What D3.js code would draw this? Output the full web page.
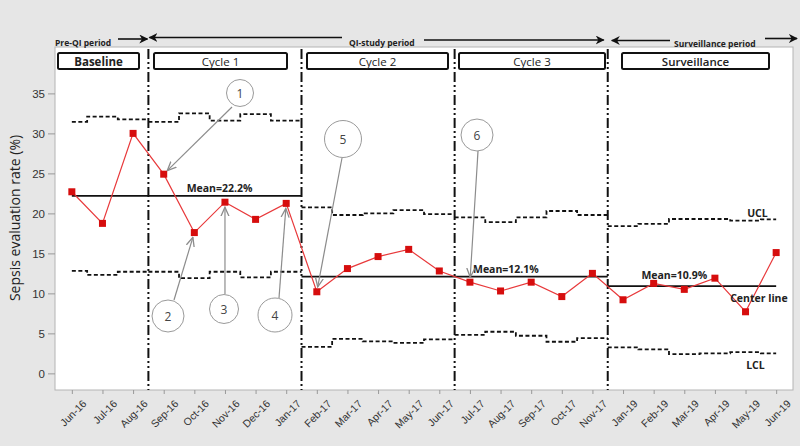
<!DOCTYPE html>
<html>
<head>
<meta charset="utf-8">
<script src="https://cdn.jsdelivr.net/npm/d3@7"></script>
<style>
  html, body { margin: 0; padding: 0; background: #e6e6e6; }
  svg { display: block; font-family: 'Open Sans', sans-serif; }
</style>
</head>
<body>
<div id="chart"></div>
<script>
// data
const months = ['Jun-16','Jul-16','Aug-16','Sep-16','Oct-16','Nov-16','Dec-16','Jan-17',
  'Feb-17','Mar-17','Apr-17','May-17','Jun-17','Jul-17','Aug-17','Sep-17','Oct-17','Nov-17',
  'Jan-19','Feb-19','Mar-19','Apr-19','May-19','Jun-19'];
const rates = [22.7, 18.75, 30.0, 24.9, 17.6, 21.4, 19.25, 21.25,
  10.2, 13.1, 14.6, 15.5, 12.8, 11.4, 10.3, 11.4, 9.6, 12.5,
  9.2, 11.25, 10.5, 11.9, 7.7, 15.1];
const ucl = [31.45, 32.1, 31.75, 31.45, 32.5, 31.6, 32.4, 31.6,
  20.75, 19.8, 20.0, 20.4, 19.9, 19.5, 18.9, 19.5, 20.3, 19.8,
  18.4, 18.7, 19.3, 19.3, 19.1, 19.25];
const lcl = [12.8, 12.3, 12.7, 12.7, 11.9, 12.7, 12.0, 12.7,
  3.3, 4.3, 4.0, 3.8, 4.25, 4.8, 5.2, 4.7, 3.95, 4.4,
  3.25, 3.0, 2.4, 2.5, 2.65, 2.5];

const phaseNames = ['Baseline', 'Cycle 1', 'Cycle 2', 'Cycle 3', 'Surveillance'];
const phaseStart = [0, 3, 8, 13, 18];
const phaseEnd = [2, 7, 12, 17, 23];

const meanValues = [22.2, 12.1, 10.9];
const meanStart = [0, 8, 18];
const meanEnd = [7, 17, 23];

const yTicks = [0, 5, 10, 15, 20, 25, 30, 35];

// annotation callouts: label, index of the point they point to
const calloutLabels = ['1', '2', '3', '4', '5', '6'];
const calloutTarget = [3, 4, 5, 7, 8, 13];

const W = 800, H = 446;
const plotL = 55, plotR = 793, plotT = 47, plotB = 390;

const svg = d3.select('#chart').append('svg')
  .attr('width', W).attr('height', H);

const defs = svg.append('defs');
defs.append('marker')
  .attr('id', 'head')
  .attr('viewBox', '0 0 10 10')
  .attr('refX', 9).attr('refY', 5)
  .attr('markerWidth', 9).attr('markerHeight', 9)
  .attr('markerUnits', 'userSpaceOnUse')
  .attr('orient', 'auto')
  .append('path')
  .attr('d', 'M0,0 L10,5 L0,10 L3,5 z')
  .attr('fill', '#111');

defs.append('marker')
  .attr('id', 'grayhead')
  .attr('viewBox', '0 0 10 10')
  .attr('refX', 9).attr('refY', 5)
  .attr('markerWidth', 10).attr('markerHeight', 10)
  .attr('markerUnits', 'userSpaceOnUse')
  .attr('orient', 'auto')
  .append('path')
  .attr('d', 'M0,1 L9,5 L0,9')
  .attr('fill', 'none')
  .attr('stroke', '#8c8c8c')
  .attr('stroke-width', 1.3);

// plot area
svg.append('rect')
  .attr('x', plotL).attr('y', plotT)
  .attr('width', plotR - plotL).attr('height', plotB - plotT)
  .attr('fill', '#fff')
  .attr('stroke', '#b4b4b4');

const x = d3.scalePoint().domain(d3.range(months.length))
  .range([plotL, plotR]).padding(0.55);
const step = x.step();
const y = d3.scaleLinear().domain([-2.08, 40.8]).range([plotB, plotT]);

// left/right edge of the band owned by point i
const segL = i => i === 0 ? x(0) : x(i) - step / 2;
const segR = i => i === months.length - 1 ? x(i) : x(i) + step / 2;

// axes
const yAxis = d3.axisLeft(y).tickValues(yTicks).tickSize(7).tickPadding(3);
const gy = svg.append('g').attr('transform', `translate(${plotL},0)`).call(yAxis);
gy.select('.domain').remove();
gy.selectAll('line').attr('stroke', '#999');
gy.selectAll('text').attr('font-size', 11.5).attr('fill', '#333');

const xAxis = d3.axisBottom(x).tickSize(4).tickFormat(i => months[i]);
const gx = svg.append('g').attr('transform', `translate(0,${plotB})`).call(xAxis);
gx.select('.domain').remove();
gx.selectAll('line').attr('stroke', '#999');
gx.selectAll('text')
  .attr('font-size', 10.5).attr('fill', '#333')
  .attr('text-anchor', 'end')
  .attr('transform', 'translate(4,2) rotate(-45)')
  .attr('dy', '0.9em').attr('dx', '-0.1em');

svg.append('text')
  .attr('transform', 'translate(20,218) rotate(-90)')
  .attr('text-anchor', 'middle')
  .attr('font-size', 14).attr('fill', '#222')
  .text('Sepsis evaluation rate (%)');

// control limits as steps per phase
const stepLine = d3.line().curve(d3.curveStepAfter).x(d => d[0]).y(d => y(d[1]));
[ucl, lcl].forEach(lim => {
  phaseStart.forEach((s, p) => {
    const e = phaseEnd[p];
    const pts = d3.range(s, e + 1).map(i => [segL(i), lim[i]]);
    pts.push([segR(e), lim[e]]);
    svg.append('path')
      .attr('d', stepLine(pts))
      .attr('fill', 'none')
      .attr('stroke', '#111')
      .attr('stroke-width', 1.8)
      .attr('stroke-dasharray', '4,2.5');
  });
});

// mean lines
meanValues.forEach((m, k) => {
  svg.append('line')
    .attr('x1', segL(meanStart[k])).attr('x2', segR(meanEnd[k]))
    .attr('y1', y(m)).attr('y2', y(m))
    .attr('stroke', '#111').attr('stroke-width', 1.8);
});

const meanLabelAt = [3.75, 13.1, 18.6];
const meanLabelDy = [-4, -4, -7];
meanValues.forEach((m, k) => {
  svg.append('text')
    .attr('x', x(Math.floor(meanLabelAt[k])) + (meanLabelAt[k] % 1) * step)
    .attr('y', y(m) + meanLabelDy[k])
    .attr('font-size', 10.5).attr('font-weight', 'bold').attr('fill', '#222')
    .text(`Mean=${m}%`);
});

// phase separators
phaseStart.slice(1).forEach(s => {
  svg.append('line')
    .attr('x1', segL(s)).attr('x2', segL(s))
    .attr('y1', plotT + 2).attr('y2', plotB)
    .attr('stroke', '#111').attr('stroke-width', 2)
    .attr('stroke-dasharray', '10,3,2,3,2,3');
});

// data line and markers
const line = d3.line().x((d, i) => x(i)).y(d => y(d));
svg.append('path')
  .attr('d', line(rates))
  .attr('fill', 'none')
  .attr('stroke', '#e8393b')
  .attr('stroke-width', 1.2);

svg.append('g').selectAll('rect')
  .data(rates)
  .enter()
  .append('rect')
  .attr('x', (d, i) => x(i) - 3.5)
  .attr('y', d => y(d) - 3.5)
  .attr('width', 7).attr('height', 7)
  .attr('fill', '#d60d0d');

// limit labels
const lastX = x(months.length - 1);
const limLabel = (tx, ty, s) => svg.append('text').attr('x', tx).attr('y', ty)
  .attr('font-size', 10.5).attr('font-weight', 'bold').attr('fill', '#222').text(s);
limLabel(lastX - 29, y(ucl[23]) - 2, 'UCL');
limLabel(lastX - 46, y(meanValues[2]) + 16, 'Center line');
limLabel(lastX - 30, y(lcl[23]) + 16, 'LCL');

// callouts
const calloutPos = [[240, 93, 13.5], [168, 316, 16], [224, 309, 14.5], [275, 315, 17], [343, 139, 18.5], [477, 135, 16]];
const calloutTail = [[232, 107], [174, 300], [225, 294], [279, 298], [342, 158], [478, 151]];
calloutLabels.forEach((lab, k) => {
  const [cx, cy, r] = calloutPos[k];
  const t = calloutTarget[k];
  const tx = x(t), ty = y(rates[t]);
  const dx = calloutTail[k][0] - tx, dy = calloutTail[k][1] - ty;
  const len = Math.hypot(dx, dy);
  svg.append('line')
    .attr('x1', calloutTail[k][0]).attr('y1', calloutTail[k][1])
    .attr('x2', tx + dx / len * 5).attr('y2', ty + dy / len * 5)
    .attr('stroke', '#8c8c8c').attr('stroke-width', 1.2)
    .attr('marker-end', 'url(#grayhead)');
  svg.append('circle')
    .attr('cx', cx).attr('cy', cy).attr('r', r)
    .attr('fill', 'none').attr('stroke', '#9a9a9a').attr('stroke-width', 1);
  svg.append('text')
    .attr('x', cx).attr('y', cy + 4.5)
    .attr('text-anchor', 'middle')
    .attr('font-size', 12).attr('fill', '#444')
    .text(lab);
});

// header boxes
const boxX = [[58, 139], [154, 287], [307, 448], [459, 605], [622, 769]];
const boxW = ['bold', 'normal', 'normal', 'normal', '600'];
phaseNames.forEach((name, p) => {
  const [x0, x1] = boxX[p];
  svg.append('rect')
    .attr('x', x0).attr('y', 53)
    .attr('width', x1 - x0).attr('height', 16)
    .attr('rx', 1.5)
    .attr('fill', '#fff').attr('stroke', '#111').attr('stroke-width', 2);
  svg.append('text')
    .attr('x', (x0 + x1) / 2).attr('y', 65.5)
    .attr('text-anchor', 'middle')
    .attr('font-size', 11.5).attr('font-weight', boxW[p]).attr('fill', '#222')
    .text(name);
});

// period arrows above the plot
const periodArrow = (x1, y1, x2, y2) => svg.append('line')
  .attr('x1', x1).attr('y1', y1).attr('x2', x2).attr('y2', y2)
  .attr('stroke', '#111').attr('stroke-width', 1.6)
  .attr('marker-end', 'url(#head)');
const periodText = (tx, ty, s) => svg.append('text')
  .attr('x', tx).attr('y', ty)
  .attr('font-size', 8.5).attr('font-weight', 'bold').attr('fill', '#222')
  .text(s);

const sep1 = segL(phaseStart[1]), sep4 = segL(phaseStart[4]);
periodText(55, 46, 'Pre-QI period');
periodArrow(118, 39, sep1 - 1, 39);
periodArrow(342, 37.5, sep1 + 1, 37.5);
periodText(349, 46, 'QI-study period');
periodArrow(424, 40, sep4 - 4, 40);
periodArrow(670, 40.5, sep4 + 4, 40.5);
periodText(674, 47, 'Surveillance period');
periodArrow(765, 38.5, 797, 38.5);
</script>
</body>
</html>
